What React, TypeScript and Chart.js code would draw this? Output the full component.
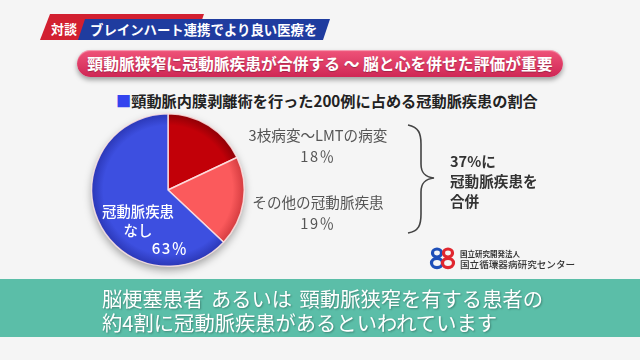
import React, { useEffect, useRef } from "react";
import { Chart, registerables } from "chart.js";

Chart.register(...registerables);

// ---- data ----
const categories = ["3枝病変〜LMTの病変", "その他の冠動脈疾患", "冠動脈疾患なし"];
const values = [18, 19, 63];
const percentLabels = ["18％", "19％", "63％"];
const innerLabelLines = ["冠動脈疾患", "なし"];
const sliceColors = ["#c20008", "#fb5a5c", "#3d4fe0"];
const rimColors = ["#8a0006", "#d23a3e", "#2a36b4"];
const totalLines = ["37%に", "冠動脈疾患を", "合併"];
const headerTag = "対談";
const header = "ブレインハート連携でより良い医療を";
const title = "頸動脈狭窄に冠動脈疾患が合併する 〜 脳と心を併せた評価が重要";
const subtitle = "頸動脈内膜剥離術を行った200例に占める冠動脈疾患の割合";
const captionLines = ["脳梗塞患者 あるいは 頸動脈狭窄を有する患者の", "約4割に冠動脈疾患があるといわれています"];
const orgLines = ["国立研究開発法人", "国立循環器病研究センター"];

const FONT = '"Noto Sans CJK JP", "Noto Sans", sans-serif';

const pieShadow = {
  id: "pieShadow",
  beforeDatasetsDraw(chart: any) {
    const arc = chart.getDatasetMeta(0).data[0];
    if (!arc) return;
    const { x, y, outerRadius } = arc;
    const ctx = chart.ctx;
    ctx.save();
    ctx.shadowColor = "rgba(0,0,0,0.35)";
    ctx.shadowBlur = 9;
    ctx.shadowOffsetY = 4;
    ctx.beginPath();
    ctx.arc(x, y, outerRadius, 0, Math.PI * 2);
    ctx.fillStyle = "#999";
    ctx.fill();
    ctx.restore();
  },
};

function abs(left: number, top: number, extra: React.CSSProperties = {}): React.CSSProperties {
  return { position: "absolute", left, top, fontFamily: FONT, whiteSpace: "nowrap", ...extra };
}

export default function App() {
  const canvasRef = useRef<HTMLCanvasElement | null>(null);

  useEffect(() => {
    if (!canvasRef.current) return;
    const chart = new Chart(canvasRef.current, {
      type: "pie",
      data: {
        labels: categories,
        datasets: [
          {
            data: values,
            backgroundColor: (ctx: any) => {
              const i = ctx.dataIndex;
              const ca = ctx.chart.chartArea;
              if (!ca) return sliceColors[i];
              const cx = (ca.left + ca.right) / 2;
              const cy = (ca.top + ca.bottom) / 2;
              const r = Math.min(ca.right - ca.left, ca.bottom - ca.top) / 2;
              const g = ctx.chart.ctx.createRadialGradient(cx, cy, 0, cx, cy, r);
              g.addColorStop(0, sliceColors[i]);
              g.addColorStop(0.84, sliceColors[i]);
              g.addColorStop(1, rimColors[i]);
              return g;
            },
            borderColor: "rgba(255,230,230,0.85)",
            borderWidth: 1.5,
          },
        ],
      },
      options: {
        responsive: false,
        animation: false,
        layout: { padding: { left: 91, right: 395, top: 113, bottom: 93 } },
        plugins: { legend: { display: false }, tooltip: { enabled: false } },
      },
      plugins: [pieShadow],
    });
    return () => chart.destroy();
  }, []);

  return (
    <div style={{ position: "fixed", left: 0, top: 0, width: 640, height: 360, background: "#f5f5f5", overflow: "hidden" }}>
      {/* header banner */}
      <div style={abs(40, 14, { width: 165, height: 26, background: "#d22030", clipPath: "polygon(10px 0, 164px 0, 155px 26px, 0 26px)" })} />
      <div style={abs(78, 19, { width: 252, height: 21, background: "#1f3c9f", clipPath: "polygon(7px 0, 252px 0, 245px 21px, 0 21px)" })} />
      <div style={abs(51, 19, { height: 19, lineHeight: "19px", fontSize: 13, fontWeight: 700, color: "#fff" })}>{headerTag}</div>
      <div style={abs(90, 19, { height: 21, lineHeight: "21px", fontSize: 13.4, fontWeight: 700, color: "#fff" })}>{header}</div>

      {/* pill title */}
      <div
        style={abs(77, 50, {
          width: 486,
          height: 27,
          borderRadius: 14,
          background: "linear-gradient(#ef5379, #cf2755)",
          boxShadow: "0 3px 5px rgba(0,0,0,0.35), inset 0 1px 1px rgba(255,255,255,0.45)",
          color: "#fff",
          fontSize: 15.8,
          fontWeight: 700,
          lineHeight: "27px",
          textAlign: "center",
          textShadow: "0 1px 1px rgba(0,0,0,0.25)",
        })}
      >
        {title}
      </div>

      {/* subtitle */}
      <div style={abs(116, 90, { height: 20, lineHeight: "20px", fontSize: 15.2, fontWeight: 700, color: "#222" })}>
        <span style={{ color: "#3344ee" }}>■</span>
        {subtitle}
      </div>

      <canvas ref={canvasRef} width={640} height={360} style={{ position: "absolute", left: 0, top: 0 }} />

      {/* inner label */}
      <div style={abs(88, 201, { width: 100, textAlign: "center", fontSize: 14.4, fontWeight: 500, color: "#fff", lineHeight: "20px" })}>
        {innerLabelLines[0]}
      </div>
      <div style={abs(88, 220, { width: 100, textAlign: "center", fontSize: 14.4, fontWeight: 500, color: "#fff", lineHeight: "20px" })}>
        {innerLabelLines[1]}
      </div>
      <div style={abs(120, 238, { width: 100, textAlign: "center", fontSize: 15, fontWeight: 500, color: "#fff", lineHeight: "20px", letterSpacing: 1.5 })}>
        {percentLabels[2]}
      </div>

      {/* right labels */}
      {[0, 1].map((i) => (
        <React.Fragment key={i}>
          <div style={abs(218, i === 0 ? 124 : 191, { width: 200, textAlign: "center", fontSize: 14.6, color: "#555", lineHeight: "22px" })}>
            {categories[i]}
          </div>
          <div style={abs(218, i === 0 ? 145 : 212, { width: 200, textAlign: "center", fontSize: 14.6, color: "#555", lineHeight: "22px", letterSpacing: 1.5 })}>
            {percentLabels[i]}
          </div>
        </React.Fragment>
      ))}

      {/* brace + logo */}
      <svg width={640} height={360} style={{ position: "absolute", left: 0, top: 0 }}>
        <path
          d="M408 125 C419 127 421 134 421 144 L421 164 C421 173 425 177 434 178 C425 179 421 183 421 192 L421 214 C421 225 419 231 408 233"
          fill="none"
          stroke="#444"
          strokeWidth={1.6}
        />
        <g fill="none" strokeWidth={3.2}>
          <ellipse cx={437} cy={253} rx={4.5} ry={4} stroke="#1e4fb8" />
          <ellipse cx={437} cy={263} rx={5.5} ry={4.6} stroke="#1e4fb8" />
          <ellipse cx={448} cy={253} rx={4.5} ry={4} stroke="#e0262e" />
          <ellipse cx={448} cy={263} rx={5.5} ry={4.6} stroke="#e0262e" />
        </g>
      </svg>

      {totalLines.map((t, i) => (
        <div key={i} style={abs(450, 151 + i * 20, { fontSize: 14.6, fontWeight: 700, color: "#333", lineHeight: "20px" })}>
          {t}
        </div>
      ))}

      {/* org */}
      <div style={abs(460, 249, { fontSize: 7.5, fontWeight: 700, color: "#333", lineHeight: "10px" })}>{orgLines[0]}</div>
      <div style={abs(460, 258, { fontSize: 9.6, fontWeight: 500, color: "#333", lineHeight: "12px" })}>{orgLines[1]}</div>

      {/* caption band */}
      <div style={abs(0, 279, { width: 640, height: 58, background: "#5bbea8" })} />
      {captionLines.map((t, i) => (
        <div
          key={i}
          style={abs(102, 286 + i * 24, {
            fontSize: 20.3,
            color: "#fff",
            lineHeight: "24px",
            wordSpacing: 3,
            textShadow: "1px 1px 2px rgba(0,0,0,0.3)",
          })}
        >
          {t}
        </div>
      ))}
    </div>
  );
}
